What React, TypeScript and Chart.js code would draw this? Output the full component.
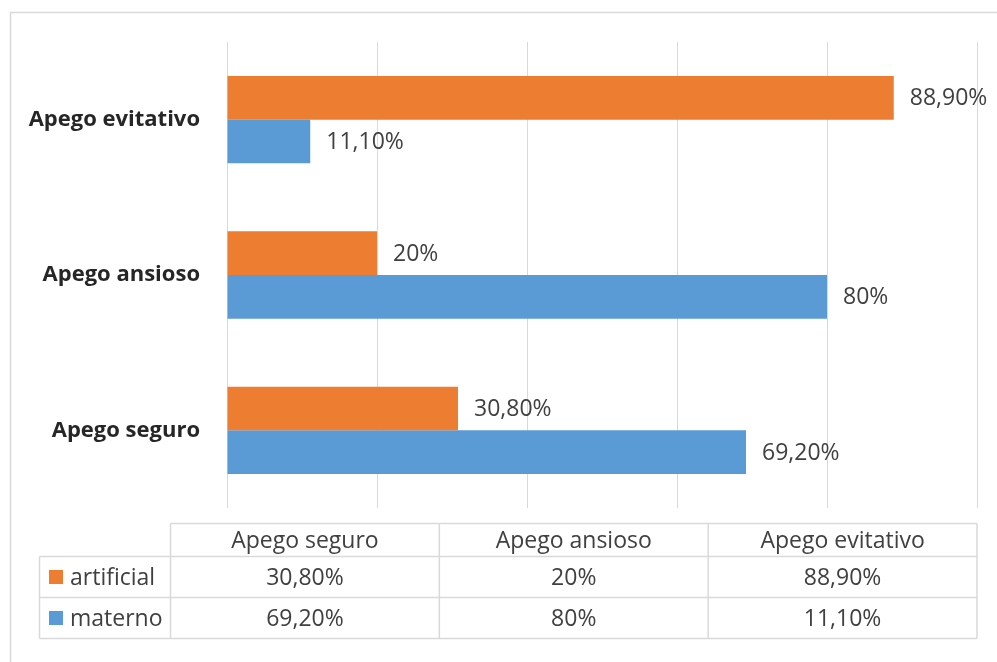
import React, { useEffect, useRef } from 'react';
import { Chart, registerables } from 'chart.js';

Chart.register(...registerables);

const categories = ['Apego seguro', 'Apego ansioso', 'Apego evitativo'];
const seriesNames = ['artificial', 'materno'];
const artificial = [30.8, 20, 88.9];
const materno = [69.2, 80, 11.1];
const seriesColors = ['#ED7D31', '#5B9BD5'];
const xTicks = [0, 20, 40, 60, 80, 100];

const fmt = (v: number) =>
  Number.isInteger(v) ? `${v}%` : `${v.toFixed(2).replace('.', ',')}%`;

const FONT = '"Open Sans", "DejaVu Sans", sans-serif';
const TEXT = '#404040';
const LINE = '#d9d9d9';

const framePlugin = {
  id: 'frame',
  beforeDraw(chart: any) {
    const ctx = chart.ctx;
    ctx.save();
    ctx.strokeStyle = LINE;
    ctx.lineWidth = 1.5;
    ctx.beginPath();
    ctx.moveTo(10.5, chart.height + 2);
    ctx.lineTo(10.5, 12.5);
    ctx.lineTo(chart.width + 2, 12.5);
    ctx.stroke();
    ctx.restore();
  },
};

const labelPlugin = {
  id: 'valueLabels',
  afterDatasetsDraw(chart: any) {
    const ctx = chart.ctx;
    ctx.save();
    ctx.font = `23px ${FONT}`;
    ctx.fillStyle = TEXT;
    ctx.textAlign = 'left';
    ctx.textBaseline = 'middle';
    chart.data.datasets.forEach((ds: any, di: number) => {
      const meta = chart.getDatasetMeta(di);
      meta.data.forEach((el: any, i: number) => {
        ctx.fillText(fmt(ds.data[i]), el.x + 16, el.y + 1);
      });
    });
    ctx.restore();
  },
};

const tablePlugin = {
  id: 'dataTable',
  afterDraw(chart: any) {
    const ctx = chart.ctx;
    const right = chart.chartArea.right;
    const left = 170.5;
    const legendLeft = 39.5;
    const yTop = 523.5;
    const yHead = 556.5;
    const yRow = 597.5;
    const yBot = 638.5;
    const colW = (right - left) / categories.length;
    const line = (x1: number, y1: number, x2: number, y2: number) => {
      ctx.beginPath();
      ctx.moveTo(x1, y1);
      ctx.lineTo(x2, y2);
      ctx.stroke();
    };
    ctx.save();
    ctx.strokeStyle = LINE;
    ctx.lineWidth = 1.5;
    line(left, yTop, right, yTop);
    line(legendLeft, yHead, right, yHead);
    line(legendLeft, yRow, right, yRow);
    line(legendLeft, yBot, right, yBot);
    for (let i = 0; i <= categories.length; i++) {
      const x = left + i * colW;
      line(x, yTop, x, yBot);
    }
    line(legendLeft, yHead, legendLeft, yBot);

    ctx.font = `23px ${FONT}`;
    ctx.fillStyle = TEXT;
    ctx.textBaseline = 'middle';
    ctx.textAlign = 'center';
    categories.forEach((c, i) => {
      ctx.fillText(c, left + colW * (i + 0.5), (yTop + yHead) / 2 + 1);
    });
    const rows = [artificial, materno];
    const rowY = [(yHead + yRow) / 2 + 1, (yRow + yBot) / 2 + 1];
    rows.forEach((vals, r) => {
      ctx.textAlign = 'center';
      ctx.fillStyle = TEXT;
      vals.forEach((v, i) => {
        ctx.fillText(fmt(v), left + colW * (i + 0.5), rowY[r]);
      });
      ctx.fillStyle = seriesColors[r];
      ctx.fillRect(49, rowY[r] - 8, 14, 14);
      ctx.fillStyle = TEXT;
      ctx.textAlign = 'left';
      ctx.fillText(seriesNames[r], 70, rowY[r]);
    });
    ctx.restore();
  },
};

export default function App() {
  const ref = useRef<HTMLCanvasElement>(null);
  useEffect(() => {
    if (!ref.current) return;
    const labels = [...categories].reverse();
    const chart = new Chart(ref.current, {
      type: 'bar',
      data: {
        labels,
        datasets: [
          {
            label: seriesNames[0],
            data: [...artificial].reverse(),
            backgroundColor: seriesColors[0],
            borderWidth: 0,
            barPercentage: 1,
            categoryPercentage: 0.562,
          },
          {
            label: seriesNames[1],
            data: [...materno].reverse(),
            backgroundColor: seriesColors[1],
            borderWidth: 0,
            barPercentage: 1,
            categoryPercentage: 0.562,
          },
        ],
      },
      options: {
        indexAxis: 'y',
        animation: false,
        responsive: false,
        events: [],
        layout: { padding: { top: 42, right: 20, bottom: 154, left: 0 } },
        plugins: { legend: { display: false }, tooltip: { enabled: false } },
        scales: {
          x: {
            min: xTicks[0],
            max: xTicks[xTicks.length - 1],
            afterBuildTicks: (scale: any) => {
              scale.ticks = xTicks.map((v) => ({ value: v }));
            },
            ticks: { display: false, stepSize: 20 },
            border: { display: false },
            grid: { color: LINE, lineWidth: 1, drawTicks: false },
            afterFit: (scale: any) => {
              scale.height = 0;
            },
          },
          y: {
            ticks: {
              color: '#262626',
              font: { family: FONT, size: 22, weight: 'bold' },
              padding: 27,
            },
            border: { display: false },
            grid: { display: false, drawTicks: false },
            afterFit: (scale: any) => {
              scale.width = 227;
            },
          },
        },
      },
      plugins: [framePlugin, labelPlugin, tablePlugin],
    });
    return () => chart.destroy();
  }, []);
  return (
    <div style={{ position: 'absolute', left: 0, top: 0, width: 997, height: 662, background: '#fff' }}>
      <canvas ref={ref} width={997} height={662} style={{ display: 'block' }} />
    </div>
  );
}
